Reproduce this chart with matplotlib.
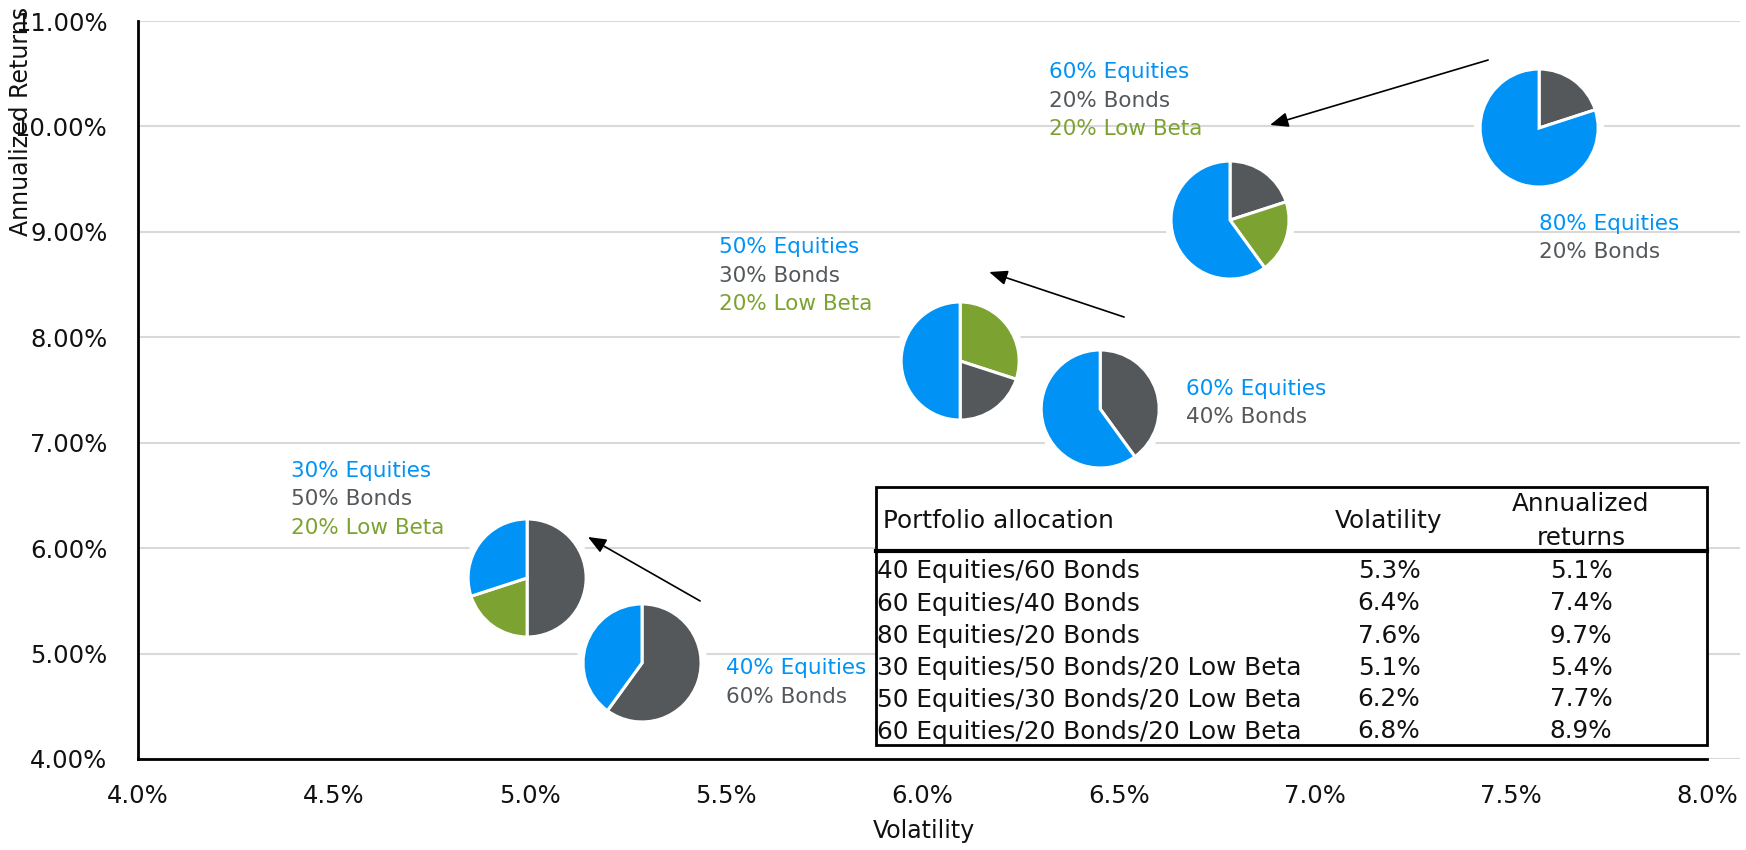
import matplotlib
matplotlib.use("Agg")
import matplotlib.pyplot as plt
from matplotlib.patches import Circle, Rectangle
from matplotlib.lines import Line2D
from matplotlib.ticker import FuncFormatter

plt.rcParams['font.family'] = ['DejaVu Sans']

BLUE = '#0093f5'
GRAY = '#54585b'
GREEN = '#7ca231'

# pie placement (volatility %, return %) and wedge values
pie_x = [7.572, 6.784, 6.096, 6.453, 4.992, 5.285]
pie_y = [9.985, 9.112, 7.775, 7.320, 5.717, 4.911]
pie_vals = [
    [20, 80],
    [20, 20, 60],
    [30, 20, 50],
    [40, 60],
    [50, 20, 30],
    [60, 40],
]
pie_cols = [
    [GRAY, BLUE],
    [GRAY, GREEN, BLUE],
    [GREEN, GRAY, BLUE],
    [GRAY, BLUE],
    [GRAY, GREEN, BLUE],
    [GRAY, BLUE],
]

# labels next to each pie
lab_x = [7.572, 6.323, 5.481, 6.672, 4.389, 5.499]
lab_y = [9.075, 10.512, 8.856, 7.513, 6.732, 4.863]
lab_lines = [
    [('80% Equities', BLUE), ('20% Bonds', GRAY)],
    [('60% Equities', BLUE), ('20% Bonds', GRAY), ('20% Low Beta', GREEN)],
    [('50% Equities', BLUE), ('30% Bonds', GRAY), ('20% Low Beta', GREEN)],
    [('60% Equities', BLUE), ('40% Bonds', GRAY)],
    [('30% Equities', BLUE), ('50% Bonds', GRAY), ('20% Low Beta', GREEN)],
    [('40% Equities', BLUE), ('60% Bonds', GRAY)],
]

# arrows: (x0, y0) -> (x1, y1)
arr_from = [(7.442, 10.63), (6.514, 8.192), (5.433, 5.499)]
arr_to = [(6.886, 10.014), (6.170, 8.619), (5.147, 6.106)]

# summary table
alloc = ['40 Equities/60 Bonds', '60 Equities/40 Bonds', '80 Equities/20 Bonds',
         '30 Equities/50 Bonds/20 Low Beta', '50 Equities/30 Bonds/20 Low Beta',
         '60 Equities/20 Bonds/20 Low Beta']
vol = ['5.3%', '6.4%', '7.6%', '5.1%', '6.2%', '6.8%']
ret = ['5.1%', '7.4%', '9.7%', '5.4%', '7.7%', '8.9%']

W, H = 1746, 850
fig = plt.figure(figsize=(W / 100, H / 100), dpi=100)

def fx(px):
    return px / W

def fy(py):
    return 1 - py / H

ax = fig.add_axes([fx(138), fy(759), fx(1740 - 138), (759 - 21) / H])
ax.set_xlim(4.0, 4.0 + 1602 / 392.25)
ax.set_ylim(4.0, 11.0)
ax.set_xticks([4.0, 4.5, 5.0, 5.5, 6.0, 6.5, 7.0, 7.5, 8.0])
ax.set_yticks(range(4, 12))
ax.xaxis.set_major_formatter(FuncFormatter(lambda v, p: f'{v:.1f}%'))
ax.yaxis.set_major_formatter(FuncFormatter(lambda v, p: f'{v:.2f}%'))
ax.tick_params(length=0, labelsize=17.5, colors='#111111')
ax.tick_params(axis='x', pad=18)
ax.tick_params(axis='y', pad=22)
ax.grid(axis='y', color='#d9d9d9', linewidth=1.5)
ax.set_axisbelow(True)
for s in ['top', 'right']:
    ax.spines[s].set_visible(False)
for s in ['left', 'bottom']:
    ax.spines[s].set_linewidth(2)
    ax.spines[s].set_color('black')
ax.spines['bottom'].set_bounds(4.0, 8.0)

fig.text(fx(924), fy(831), 'Volatility', ha='center', va='center',
         fontsize=17, color='#111111')
fig.text(fx(21), fy(121), 'Annualized Returns', ha='center', va='center',
         rotation=90, fontsize=17, color='#111111')

# arrows
for (x0, y0), (x1, y1) in zip(arr_from, arr_to):
    ax.annotate('', xy=(x1, y1), xytext=(x0, y0),
                arrowprops=dict(arrowstyle='-|>,head_length=1.1,head_width=0.45',
                                color='black', lw=1.2, shrinkA=0, shrinkB=0))

# text labels
step = 28.5 / 105.43
for x, y, lines in zip(lab_x, lab_y, lab_lines):
    for i, (t, c) in enumerate(lines):
        ax.text(x, y - i * step, t, color=c, fontsize=15.5, ha='left', va='center')

# pies in small axes
fig.canvas.draw()
R = 59
lim = 1.12
for x, y, vals, cols in zip(pie_x, pie_y, pie_vals, pie_cols):
    cx, cy = ax.transData.transform((x, y))
    half = R * lim
    pax = fig.add_axes([(cx - half) / W, (cy - half) / H, 2 * half / W, 2 * half / H])
    pax.add_patch(Circle((0, 0), 1.09, color='white', zorder=0))
    pax.pie(vals, colors=cols, startangle=90, counterclock=False,
            wedgeprops=dict(edgecolor='white', linewidth=2.2))
    pax.set_xlim(-lim, lim)
    pax.set_ylim(-lim, lim)
    pax.set_aspect('equal')
    pax.axis('off')

# table
tl, tr, tt, tb = 876, 1707, 487, 745
fig.patches.append(Rectangle((fx(tl), fy(tb)), fx(tr - tl), (tb - tt) / H,
                             transform=fig.transFigure, facecolor='white',
                             edgecolor='black', linewidth=2, zorder=3))
fig.lines.append(Line2D([fx(tl), fx(tr)], [fy(551), fy(551)],
                        transform=fig.transFigure, color='black', lw=3, zorder=4))
tkw = dict(fontsize=17.8, va='center', color='#111111', zorder=5)
fig.text(fx(883), fy(521), 'Portfolio allocation', ha='left', **tkw)
fig.text(fx(1389), fy(521), 'Volatility', ha='center', **tkw)
fig.text(fx(1581), fy(504), 'Annualized', ha='center', **tkw)
fig.text(fx(1581), fy(538), 'returns', ha='center', **tkw)
row_y = [571, 603.5, 636, 668, 699.5, 731.5]
for ry, a, v, r in zip(row_y, alloc, vol, ret):
    fig.text(fx(877), fy(ry), a, ha='left', **tkw)
    fig.text(fx(1389), fy(ry), v, ha='center', **tkw)
    fig.text(fx(1581), fy(ry), r, ha='center', **tkw)

fig.savefig('out.png', dpi=100)
